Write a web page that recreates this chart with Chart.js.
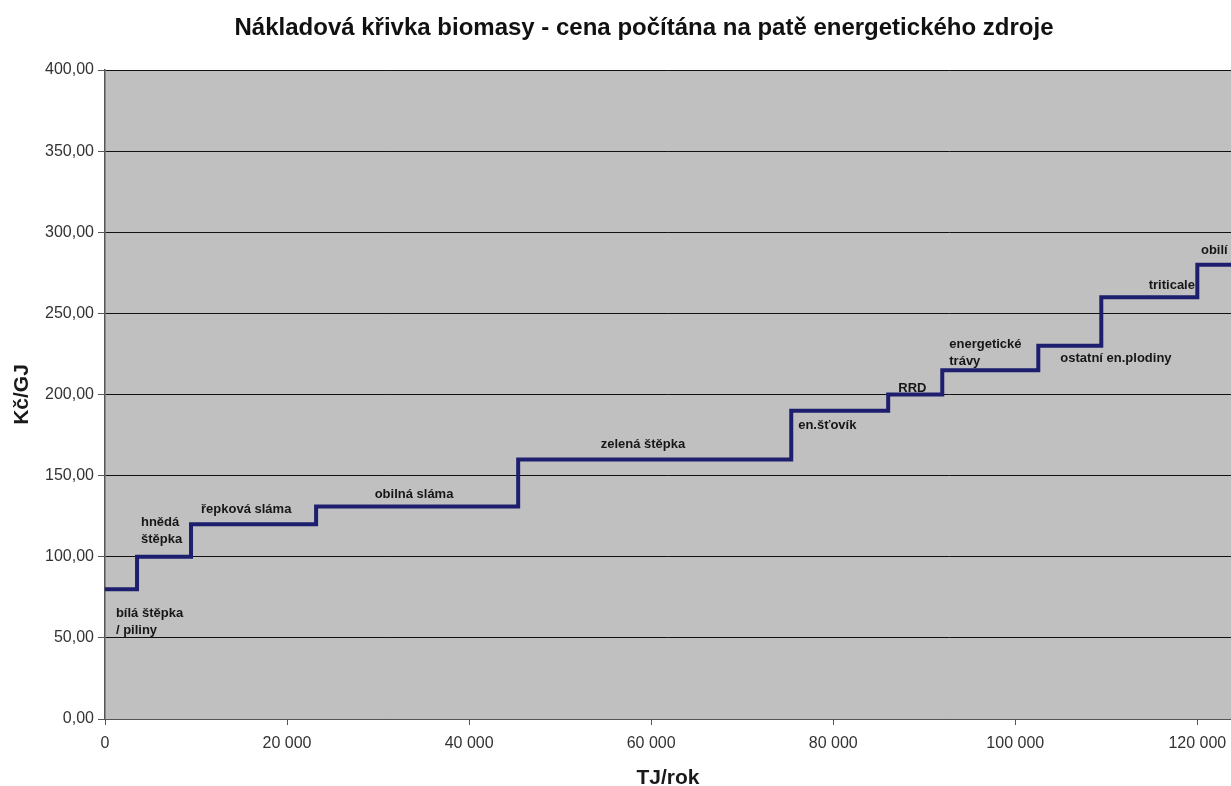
<!DOCTYPE html>
<html>
<head>
<meta charset="utf-8">
<title>Nákladová křivka biomasy</title>
<script src="https://cdn.jsdelivr.net/npm/chart.js@4.4.1/dist/chart.umd.min.js"></script>
<style>
    html, body { margin: 0; padding: 0; background: #ffffff; overflow: hidden; }
    #wrap { width: 1231px; height: 786px; }
</style>
</head>
<body>
<div id="wrap"><canvas id="chart-canvas" width="1231" height="786"></canvas></div>
<script>
/* Cost curve of biomass — stepped line */

const chartTitle = 'Nákladová křivka biomasy - cena počítána na patě energetického zdroje';

// start of each step (TJ/rok) and its price (Kč/GJ)
const stepStarts = [0, 3520, 9450, 23190, 45390, 75390, 86040, 91980, 102530, 109450, 120000, 123700];
const stepPrices = [80, 100, 120, 131, 160, 190, 200, 215, 230, 260, 280, 280];

// labels of the biomass kinds, anchored in data coordinates
const labelTexts = [
    ['bílá štěpka', '/ piliny'],
    ['hnědá', 'štěpka'],
    ['řepková sláma'],
    ['obilná sláma'],
    ['zelená štěpka'],
    ['en.šťovík'],
    ['RRD'],
    ['energetické', 'trávy'],
    ['ostatní en.plodiny'],
    ['triticale'],
    ['obilí']
];
const labelX = [1200, 3950, 10550, 33950, 59100, 76150, 88700, 92750, 104950, 117200, 120400];
const labelY = [65, 121, 129, 138.5, 169, 181, 204, 231, 222.5, 267.5, 289];
const labelAlign = ['left', 'left', 'left', 'center', 'center', 'left', 'center', 'left', 'left', 'center', 'left'];

const yTicks = [0, 50, 100, 150, 200, 250, 300, 350, 400];
const xTicks = [0, 20000, 40000, 60000, 80000, 100000, 120000];

const FONT = "'Liberation Sans', Arial, sans-serif";

const plotBackground = {
    id: 'plotBackground',
    beforeDraw(chart) {
        const { ctx, chartArea: a } = chart;
        ctx.save();
        ctx.fillStyle = '#c0c0c0';
        ctx.fillRect(a.left, a.top, a.right - a.left, a.bottom - a.top);
        ctx.restore();
    }
};

// title sits a little left of the plot centre, as in the original sheet
const topTitle = {
    id: 'topTitle',
    afterDraw(chart) {
        const { ctx } = chart;
        ctx.save();
        ctx.font = 'bold 24px ' + FONT;
        ctx.fillStyle = '#111111';
        ctx.textAlign = 'center';
        ctx.textBaseline = 'middle';
        ctx.fillText(chartTitle, 644, 28);
        ctx.restore();
    }
};

const stepLabels = {
    id: 'stepLabels',
    afterDatasetsDraw(chart) {
        const { ctx, scales } = chart;
        ctx.save();
        ctx.font = 'bold 13px ' + FONT;
        ctx.fillStyle = '#161616';
        ctx.textBaseline = 'middle';
        labelTexts.forEach((lines, i) => {
            const px = scales.x.getPixelForValue(labelX[i]);
            const py = scales.y.getPixelForValue(labelY[i]);
            ctx.textAlign = labelAlign[i];
            lines.forEach((t, j) => ctx.fillText(t, px, py + j * 17));
        });
        ctx.restore();
    }
};

const fmtY = v => v.toFixed(2).replace('.', ',');
const fmtX = v => String(v).replace(/\B(?=(\d{3})+(?!\d))/g, ' ');

new Chart(document.getElementById('chart-canvas').getContext('2d'), {
    type: 'line',
    data: {
        datasets: [{
            data: stepStarts.map((x, i) => ({ x: x, y: stepPrices[i] })),
            borderColor: '#1e1e6e',
            borderWidth: 4,
            stepped: true,
            pointRadius: 0,
            fill: false
        }]
    },
    options: {
        responsive: false,
        animation: false,
        layout: { padding: { left: 0, right: 0, top: 70, bottom: 0 } },
        plugins: {
            legend: { display: false },
            tooltip: { enabled: false },
            title: { display: false }
        },
        scales: {
            x: {
                type: 'linear',
                min: 0,
                max: 123700,
                afterFit(s) {
                    s.height = 67;
                    // the plot runs to the page edge, no room kept for the last label
                    s.paddingLeft = 0;
                    s.paddingRight = 0;
                },
                afterBuildTicks(s) { s.ticks = xTicks.map(v => ({ value: v })); },
                grid: { drawOnChartArea: false, drawTicks: true, tickLength: 6, tickColor: '#555555' },
                border: { color: '#555555', width: 1 },
                ticks: {
                    color: '#333333',
                    font: { family: FONT, size: 16 },
                    padding: 9,
                    maxRotation: 0,
                    callback: v => fmtX(v)
                },
                title: {
                    display: true,
                    text: 'TJ/rok',
                    color: '#1a1a1a',
                    font: { family: FONT, size: 21, weight: 'bold', lineHeight: 0.75 },
                    padding: { top: 0, bottom: 0 }
                }
            },
            y: {
                min: 0,
                max: 400,
                afterFit(s) { s.width = 105; },
                afterBuildTicks(s) { s.ticks = yTicks.map(v => ({ value: v })); },
                grid: { color: '#111111', lineWidth: 1, drawTicks: true, tickLength: 7, tickColor: '#555555' },
                border: { color: '#555555', width: 1.5 },
                ticks: {
                    color: '#333333',
                    font: { family: FONT, size: 16 },
                    padding: 4,
                    callback: v => fmtY(v)
                },
                title: {
                    display: true,
                    text: 'Kč/GJ',
                    color: '#1a1a1a',
                    font: { family: FONT, size: 21, weight: 'bold', lineHeight: 1 },
                    padding: { top: 12, bottom: 0 }
                }
            }
        }
    },
    plugins: [plotBackground, stepLabels, topTitle]
});
</script>
</body>
</html>
